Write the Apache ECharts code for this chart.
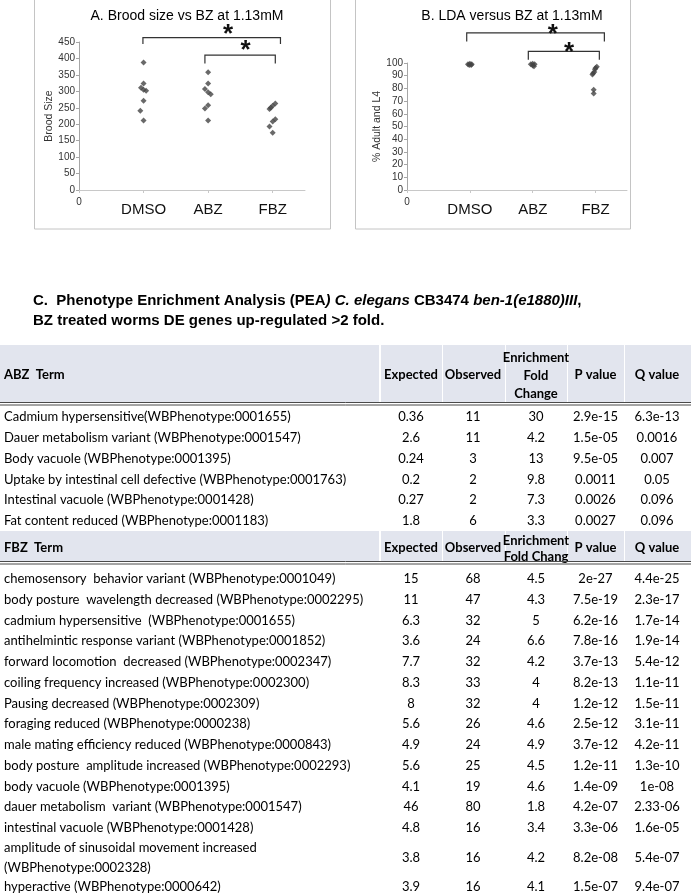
<!DOCTYPE html>
<html><head><meta charset="utf-8">
<script src="https://cdn.jsdelivr.net/npm/echarts@6/dist/echarts.min.js"></script>
<style>html,body{margin:0;padding:0;background:#fff}#c{width:691px;height:895px}</style>
</head><body><div id="c"></div><script>
// ---------- DATA ----------
const categories = ['DMSO', 'ABZ', 'FBZ'];
const yTicksBrood = [0, 450, 50];   // min, max, step
const yTicksLDA = [0, 100, 10];
// [x position (1=DMSO,2=ABZ,3=FBZ, with visual jitter), value]
const broodDMSO = [[1.0,388],[1.0,324],[0.96,311],[1.0,305],[1.04,302],[1.0,271],[0.95,241],[1.0,211]];
const broodABZ  = [[2.0,358],[2.0,324],[1.95,307],[2.0,297],[2.04,291],[2.0,258],[1.95,248],[2.0,211]];
const broodFBZ  = [[3.04,263],[3.0,256],[2.97,250],[2.95,246],[3.04,215],[3.0,208],[2.95,193],[3.0,174]];
const ldaDMSO = [[0.97,99],[1.0,99.5],[1.03,99],[0.99,98.5],[1.02,98.5]];
const ldaABZ  = [[1.97,99],[2.0,99.5],[2.03,99],[2.0,98],[2.02,97.5]];
const ldaFBZ  = [[3.02,97],[3.0,96],[2.99,95],[2.98,93],[2.96,92],[2.95,91],[2.97,79],[2.97,76]];

const tableHeader = ['Expected', 'Observed', ['Enrichment','Fold','Change'], 'P value', 'Q value'];
const fbzHeader = ['Expected', 'Observed', ['Enrichment','Fold Chang'], 'P value', 'Q value'];
const abzTerms = ['Cadmium hypersensitive(WBPhenotype:0001655)','Dauer metabolism variant (WBPhenotype:0001547)','Body vacuole (WBPhenotype:0001395)','Uptake by intestinal cell defective (WBPhenotype:0001763)','Intestinal vacuole (WBPhenotype:0001428)','Fat content reduced (WBPhenotype:0001183)'];
const abzExpected = ['0.36','2.6','0.24','0.2','0.27','1.8'];
const abzObserved = ['11','11','3','2','2','6'];
const abzFold = ['30','4.2','13','9.8','7.3','3.3'];
const abzP = ['2.9e-15','1.5e-05','9.5e-05','0.0011','0.0026','0.0027'];
const abzQ = ['6.3e-13','0.0016','0.007','0.05','0.096','0.096'];
const fbzTerms = ['chemosensory  behavior variant (WBPhenotype:0001049)','body posture  wavelength decreased (WBPhenotype:0002295)','cadmium hypersensitive  (WBPhenotype:0001655)','antihelmintic response variant (WBPhenotype:0001852)','forward locomotion  decreased (WBPhenotype:0002347)','coiling frequency increased (WBPhenotype:0002300)','Pausing decreased (WBPhenotype:0002309)','foraging reduced (WBPhenotype:0000238)','male mating efficiency reduced (WBPhenotype:0000843)','body posture  amplitude increased (WBPhenotype:0002293)','body vacuole (WBPhenotype:0001395)','dauer metabolism  variant (WBPhenotype:0001547)','intestinal vacuole (WBPhenotype:0001428)','amplitude of sinusoidal movement increased\n(WBPhenotype:0002328)','hyperactive (WBPhenotype:0000642)'];
const fbzExpected = ['15','11','6.3','3.6','7.7','8.3','8','5.6','4.9','5.6','4.1','46','4.8','3.8','3.9'];
const fbzObserved = ['68','47','32','24','32','33','32','26','24','25','19','80','16','16','16'];
const fbzFold = ['4.5','4.3','5','6.6','4.2','4','4','4.6','4.9','4.5','4.6','1.8','3.4','4.2','4.1'];
const fbzP = ['2e-27','7.5e-19','6.2e-16','7.8e-16','3.7e-13','8.2e-13','1.2e-12','2.5e-12','3.7e-12','1.2e-11','1.4e-09','4.2e-07','3.3e-06','8.2e-08','1.5e-07'];
const fbzQ = ['4.4e-25','2.3e-17','1.7e-14','1.9e-14','5.4e-12','1.1e-11','1.5e-11','3.1e-11','4.2e-11','1.3e-10','1e-08','2.33-06','1.6e-05','5.4e-07','9.4e-07'];

// ---------- CHART ----------
const chart = echarts.init(document.getElementById('c'), null, {renderer: 'canvas'});
const AX = '#a6a6a6', LBL = '#333';
const FF = 'Liberation Sans, Arial, sans-serif';

function xAxisDef(gi) {
  return {
    type: 'value', gridIndex: gi, min: 0, max: 3.5, interval: 1,
    axisLine: {show: true, lineStyle: {color: '#c8c8c8', width: 1}},
    axisTick: {show: true, length: 3, lineStyle: {color: '#c8c8c8'}},
    splitLine: {show: false},
    axisLabel: {
      showMaxLabel: false, margin: 7, fontFamily: FF,
      formatter: v => v === 0 ? '{z|0}' : (categories[v - 1] ? '{c|' + categories[v - 1] + '}' : ''),
      rich: {z: {fontSize: 10, color: LBL, fontFamily: FF}, c: {fontSize: 15, color: '#111', fontFamily: FF, padding: [5, 0, 0, 0]}}
    }
  };
}
function yAxisDef(gi, t, name, gap) {
  return {
    type: 'value', gridIndex: gi, min: t[0], max: t[1], interval: t[2],
    name: name, nameLocation: 'middle', nameGap: gap, nameRotate: 90,
    nameTextStyle: {fontSize: 10.5, color: LBL, fontFamily: FF},
    axisLine: {show: true, lineStyle: {color: AX}},
    axisTick: {show: true, length: 3, lineStyle: {color: AX}},
    splitLine: {show: false},
    axisLabel: {fontSize: 10, color: LBL, margin: 4, fontFamily: FF}
  };
}
function sc(gi, data) {
  return {type: 'scatter', xAxisIndex: gi, yAxisIndex: gi, data: data, symbol: 'diamond', symbolSize: 6,
    itemStyle: {color: '#444'}, silent: true};
}

chart.setOption({
  animation: false,
  backgroundColor: '#fff',
  grid: [
    {left: 79, top: 42, width: 226, height: 148},
    {left: 407, top: 63, width: 220, height: 127}
  ],
  xAxis: [xAxisDef(0), xAxisDef(1)],
  yAxis: [yAxisDef(0, yTicksBrood, 'Brood Size', 23), yAxisDef(1, yTicksLDA, '% Adult and L4', 19)],
  series: [sc(0, broodDMSO), sc(0, broodABZ), sc(0, broodFBZ), sc(1, ldaDMSO), sc(1, ldaABZ), sc(1, ldaFBZ)]
});

// ---------- ANNOTATIONS & TABLE ----------
const els = [];
function P(gi, x, y) { return chart.convertToPixel({gridIndex: gi}, [x, y]); }
function line(x1, y1, x2, y2, color, w) {
  els.push({type: 'line', shape: {x1, y1, x2, y2}, style: {stroke: color, lineWidth: w || 1}, silent: true});
}
function text(t, x, y, opts) {
  opts = opts || {};
  els.push({type: 'text', silent: true, style: Object.assign({
    text: t, x: x, y: y, fill: opts.fill || '#000',
    font: opts.font, textAlign: opts.align || 'left', textVerticalAlign: opts.valign || 'middle',
    align: opts.align || 'left', verticalAlign: opts.valign || 'middle'
  }, opts.extra || {})});
}
function bracket(gi, x1, x2, yTop, yEnd) {
  const a = P(gi, x1, yTop), b = P(gi, x2, yTop), c = P(gi, x1, yEnd), d = P(gi, x2, yEnd);
  els.push({type: 'polyline', silent: true, shape: {points: [[c[0], c[1]], [a[0], a[1]], [b[0], b[1]], [d[0], d[1]]]},
    style: {stroke: '#333', lineWidth: 1.2, fill: null}});
}
function star(gi, x, y) {
  const p = P(gi, x, y);
  text('*', p[0], p[1], {font: 'bold 26px ' + FF, align: 'center', valign: 'middle', fill: '#111'});
}

// frames
els.push({type: 'rect', silent: true, shape: {x: 34.5, y: -5, width: 296, height: 234}, style: {stroke: '#c4c4c4', fill: null, lineWidth: 1}});
els.push({type: 'rect', silent: true, shape: {x: 355.5, y: -5, width: 275, height: 234}, style: {stroke: '#c4c4c4', fill: null, lineWidth: 1}});
// chart titles
text('A. Brood size vs BZ at 1.13mM', 187, 16, {font: '14px ' + FF, align: 'center'});
text('B. LDA versus BZ at 1.13mM', 512, 16, {font: '14px ' + FF, align: 'center'});
// brackets & stars
bracket(0, 0.99, 3.12, 463, 444); star(0, 2.31, 472);
bracket(0, 1.95, 3.04, 410, 385); star(0, 2.58, 424);
bracket(1, 0.95, 3.14, 123.7, 117); star(1, 2.32, 122.4);
bracket(1, 1.93, 3.06, 109.2, 102.6); star(1, 2.58, 108.4);

// title C
const TF = 'Liberation Sans, Arial, sans-serif';
els.push({type: 'text', silent: true, style: {
  x: 33, y: 301, textVerticalAlign: 'middle', verticalAlign: 'middle',
  text: '{b|C.  Phenotype Enrichment Analysis (PEA}{i|) C. elegans}{b| CB3474 }{i|ben-1(e1880)III}{b|,}',
  rich: {b: {font: 'bold 15px ' + TF, fill: '#000'}, i: {font: 'italic bold 15px ' + TF, fill: '#000'}}
}});
text('BZ treated worms DE genes up-regulated >2 fold.', 33, 321, {font: 'bold 15px ' + TF});

// table
const TBF = 'Lato, Open Sans, sans-serif';
const colX = [0, 380, 442, 505, 567, 624, 691];
const colC = [411, 473, 536, 595.5, 657];
const HBG = '#e2e5ee';
function headerRow(label, top, bottom, hdr, lineY, multiOff) {
  for (let i = 0; i < 6; i++) {
    els.push({type: 'rect', silent: true, shape: {x: colX[i] + (i ? 1 : 0), y: top, width: colX[i + 1] - colX[i] - 1, height: bottom - top},
      style: {fill: HBG}});
  }
  const mid = (top + bottom) / 2 + 1.5;
  text(label, 4, mid, {font: 'bold 13px ' + TBF});
  hdr.forEach((h, i) => {
    if (Array.isArray(h)) {
      h.forEach((s, k) => text(s, colC[i], mid + multiOff[k], {font: 'bold 13px ' + TBF, align: 'center'}));
    } else text(h, colC[i], mid, {font: 'bold 13px ' + TBF, align: 'center'});
  });
  line(0, lineY, 691, lineY, '#4a4a4a', 1);
  line(0, lineY + 2.5, 691, lineY + 2.5, '#4a4a4a', 1);
}
function bodyRows(terms, cols, firstTop, step, doubleIdx) {
  let y = firstTop;
  terms.forEach((t, r) => {
    const h = r === doubleIdx ? 38 : step;
    const mid = y + h / 2;
    if (t.indexOf('\n') >= 0) {
      t.split('\n').forEach((s, k) => text(s, 4, mid - 10 + k * 20, {font: '13px ' + TBF}));
    } else text(t, 4, mid, {font: '13px ' + TBF});
    cols.forEach((c, i) => text(c[r], colC[i], mid, {font: '13px ' + TBF, align: 'center'}));
    y += h;
  });
}
headerRow('ABZ  Term', 345, 402.5, tableHeader, 402.5, [-17.5, 0.5, 18.5]);
bodyRows(abzTerms, [abzExpected, abzObserved, abzFold, abzP, abzQ], 406.6, 20.8, -1);
headerRow('FBZ  Term', 531, 561.5, fbzHeader, 561.5, [-7, 9]);
bodyRows(fbzTerms, [fbzExpected, fbzObserved, fbzFold, fbzP, fbzQ], 568.6, 20.75, 13);

chart.setOption({graphic: {elements: els}});
</script></body></html>
